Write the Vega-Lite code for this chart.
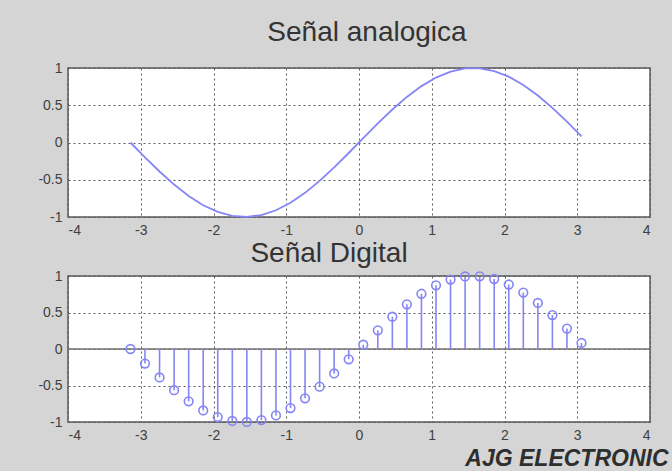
{
  "$schema": "https://vega.github.io/schema/vega-lite/v6.json",
  "background": "#d5d5d5",
  "padding": {"left": 37, "top": 18, "right": 5, "bottom": 0},
  "spacing": 0,
  "datasets": {
    "sig": [
      {"x": -3.1416, "y": 0.0},
      {"x": -2.9416, "y": -0.1987},
      {"x": -2.7416, "y": -0.3894},
      {"x": -2.5416, "y": -0.5646},
      {"x": -2.3416, "y": -0.7174},
      {"x": -2.1416, "y": -0.8415},
      {"x": -1.9416, "y": -0.932},
      {"x": -1.7416, "y": -0.9854},
      {"x": -1.5416, "y": -0.9996},
      {"x": -1.3416, "y": -0.9738},
      {"x": -1.1416, "y": -0.9093},
      {"x": -0.9416, "y": -0.8085},
      {"x": -0.7416, "y": -0.6755},
      {"x": -0.5416, "y": -0.5155},
      {"x": -0.3416, "y": -0.335},
      {"x": -0.1416, "y": -0.1411},
      {"x": 0.0584, "y": 0.0584},
      {"x": 0.2584, "y": 0.2555},
      {"x": 0.4584, "y": 0.4425},
      {"x": 0.6584, "y": 0.6119},
      {"x": 0.8584, "y": 0.7568},
      {"x": 1.0584, "y": 0.8716},
      {"x": 1.2584, "y": 0.9516},
      {"x": 1.4584, "y": 0.9937},
      {"x": 1.6584, "y": 0.9962},
      {"x": 1.8584, "y": 0.9589},
      {"x": 2.0584, "y": 0.8835},
      {"x": 2.2584, "y": 0.7728},
      {"x": 2.4584, "y": 0.6313},
      {"x": 2.6584, "y": 0.4646},
      {"x": 2.8584, "y": 0.2794},
      {"x": 3.0584, "y": 0.0831}
    ]
  },
  "vconcat": [
    {
      "width": 582,
      "height": 149,
      "title": {"text": "Señal analogica", "dx": 8, "offset": 14},
      "data": {"name": "sig"},
      "mark": {"type": "line", "color": "#8585f5", "strokeWidth": 1.8},
      "encoding": {
        "x": {"field": "x", "type": "quantitative", "title": null,
              "scale": {"domain": [-4, 4], "nice": false},
              "axis": {"values": [-4, -3, -2, -1, 0, 1, 2, 3, 4], "labelExpr": "'' + datum.value"}},
        "y": {"field": "y", "type": "quantitative", "title": null,
              "scale": {"domain": [-1, 1], "nice": false},
              "axis": {"values": [-1, -0.5, 0, 0.5, 1], "labelExpr": "'' + datum.value"}}
      }
    },
    {
      "width": 582,
      "height": 146,
      "title": {"text": "Señal Digital", "dx": -30, "offset": 1},
      "layer": [
        {
          "data": {"values": [{"v": 0}]},
          "mark": {"type": "rule", "color": "#707070", "strokeWidth": 1.5},
          "encoding": {
            "y": {"field": "v", "type": "quantitative", "title": null,
                  "scale": {"domain": [-1, 1], "nice": false},
                  "axis": {"values": [-1, -0.5, 0, 0.5, 1], "labelExpr": "'' + datum.value"}}
          }
        },
        {
          "data": {"name": "sig"},
          "mark": {"type": "rule", "color": "#8585f5", "strokeWidth": 1.6},
          "encoding": {
            "x": {"field": "x", "type": "quantitative",
                  "scale": {"domain": [-4, 4], "nice": false},
                  "axis": {"values": [-4, -3, -2, -1, 0, 1, 2, 3, 4], "labelExpr": "'' + datum.value",
                           "title": "AJG ELECTRONIC", "titleFont": "Liberation Sans", "titleFontSize": 23,
                           "titleFontStyle": "italic", "titleFontWeight": "bold", "titleColor": "#2e2e2e",
                           "titleAnchor": "end", "titleAlign": "right", "titleX": 600, "titlePadding": 5}},
            "y": {"field": "y", "type": "quantitative", "title": null,
                  "axis": {"values": [-1, -0.5, 0, 0.5, 1], "labelExpr": "'' + datum.value"}},
            "y2": {"datum": 0}
          }
        },
        {
          "data": {"name": "sig"},
          "mark": {"type": "point", "shape": "circle", "filled": false, "color": "#8585f5", "strokeWidth": 1.6, "size": 75, "opacity": 1},
          "encoding": {
            "x": {"field": "x", "type": "quantitative"},
            "y": {"field": "y", "type": "quantitative",
                  "axis": {"values": [-1, -0.5, 0, 0.5, 1], "labelExpr": "'' + datum.value"}}
          }
        }
      ]
    }
  ],
  "config": {
    "view": {"fill": "white", "stroke": "#5a5a5a", "strokeWidth": 1.5},
    "axis": {
      "grid": true, "gridDash": [2, 3], "gridColor": "#5a5a5a", "gridWidth": 1,
      "domain": false, "ticks": false,
      "labelFont": "Liberation Sans", "labelFontSize": 14, "labelColor": "#404040", "labelPadding": 6
    },
    "title": {"font": "Liberation Sans", "fontSize": 28, "fontWeight": "normal", "color": "#333333"}
  }
}
